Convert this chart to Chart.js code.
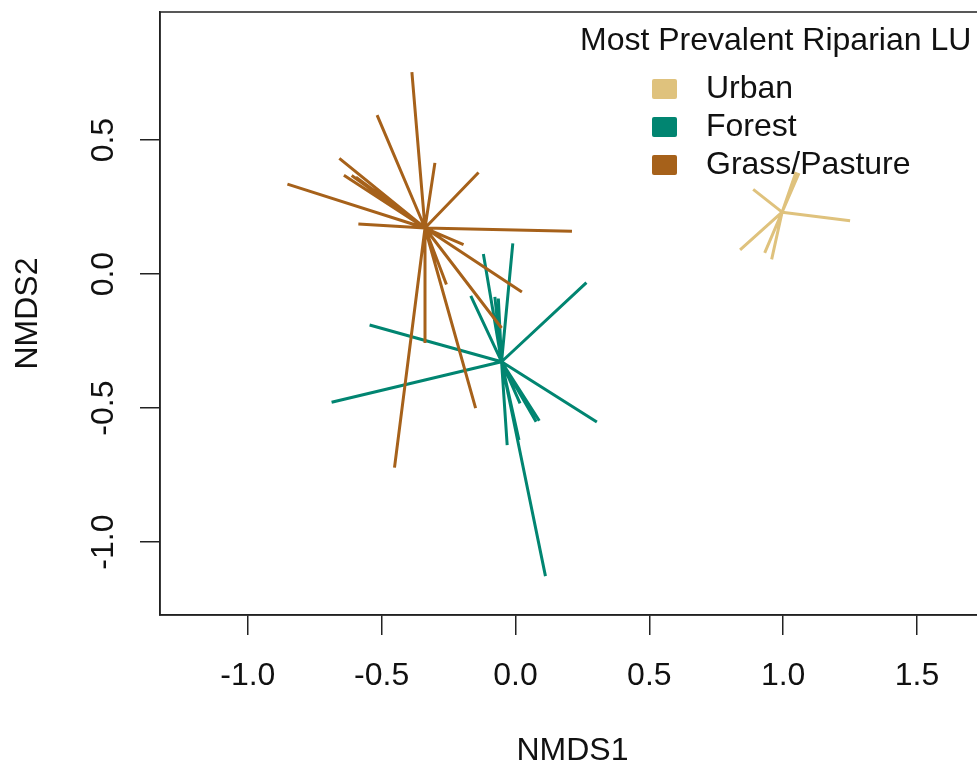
<!DOCTYPE html>
<html lang="en">
<head>
    <meta charset="UTF-8">
    <title>NMDS spider plot</title>
    <script src="https://cdn.jsdelivr.net/npm/chart.js"></script>
    <style>
        body {
            margin: 0;
            background: #fff;
            overflow: hidden;
        }
        #nmds {
            display: block;
        }
    </style>
</head>
<body>
    <canvas id="nmds" width="990" height="770"></canvas>

    <script>
        // groups, in legend order
        const groups = ['Urban', 'Forest', 'Grass/Pasture'];
        const legendTitle = 'Most Prevalent Riparian LU';

        // site scores (NMDS1 / NMDS2) and group centroids
        const urbanCentroid = [0.996, 0.231];
        const urbanX = [1.048, 1.059, 0.888, 1.250, 0.839, 0.931, 0.957];
        const urbanY = [0.381, 0.377, 0.316, 0.199, 0.090, 0.079, 0.055];

        const forestCentroid = [-0.052, -0.327];
        const forestX = [-0.545, -0.687, 0.265, 0.304, 0.112, -0.031, 0.013, 0.017, 0.089, 0.077, -0.010, -0.120, -0.167, -0.077, -0.064];
        const forestY = [-0.190, -0.478, -0.032, -0.552, -1.127, -0.638, -0.619, -0.482, -0.547, -0.551, 0.115, 0.075, -0.081, -0.085, -0.091];

        const grassCentroid = [-0.338, 0.172];
        const grassX = [-0.387, -0.517, -0.658, -0.641, -0.612, -0.596, -0.852, -0.587, -0.301, -0.138, 0.211, -0.194, 0.024, -0.052, -0.258, -0.338, -0.452, -0.149];
        const grassY = [0.754, 0.593, 0.432, 0.369, 0.368, 0.362, 0.336, 0.187, 0.415, 0.379, 0.160, 0.110, -0.067, -0.201, -0.039, -0.257, -0.722, -0.500];

        const xTicks = [-1.0, -0.5, 0.0, 0.5, 1.0, 1.5];
        const yTicks = [-1.0, -0.5, 0.0, 0.5];

        const colors = ['#dfc27d', '#018571', '#a6611a'];
        const font = "'Liberation Sans', Arial, sans-serif";

        // each site joined to its centroid, gaps between segments
        function spider(c, xs, ys) {
            let pts = [];
            xs.forEach((x, i) => {
                pts.push({x: c[0], y: c[1]});
                pts.push({x: x, y: ys[i]});
                pts.push({x: null, y: null});
            });
            return pts;
        }

        const spiders = [
            spider(urbanCentroid, urbanX, urbanY),
            spider(forestCentroid, forestX, forestY),
            spider(grassCentroid, grassX, grassY)
        ];

        const boxAndLabels = {
            id: 'boxAndLabels',
            afterDraw(chart) {
                const ctx = chart.ctx;
                const a = chart.chartArea;
                const ys = chart.scales.y;
                ctx.save();
                ctx.strokeStyle = '#222';
                ctx.lineWidth = 1.5;
                ctx.strokeRect(a.left, a.top, a.right - a.left, a.bottom - a.top);

                // y tick labels, rotated like R
                ctx.fillStyle = '#111';
                ctx.font = '32px ' + font;
                ctx.textAlign = 'center';
                ctx.textBaseline = 'middle';
                yTicks.forEach(v => {
                    ctx.save();
                    ctx.translate(104, ys.getPixelForValue(v));
                    ctx.rotate(-Math.PI / 2);
                    ctx.fillText(v.toFixed(1), 0, 0);
                    ctx.restore();
                });

                // legend
                ctx.textAlign = 'left';
                ctx.fillText(legendTitle, 580, 41);
                groups.forEach((g, i) => {
                    const cy = 89 + i * 38;
                    ctx.fillStyle = colors[i];
                    ctx.beginPath();
                    ctx.roundRect(652, cy - 10, 25, 20, 2);
                    ctx.fill();
                    ctx.fillStyle = '#111';
                    ctx.fillText(g, 706, cy);
                });
                ctx.restore();
            }
        };

        new Chart(document.getElementById('nmds'), {
            type: 'scatter',
            data: {
                datasets: groups.map((g, i) => ({
                    label: g,
                    data: spiders[i],
                    showLine: true,
                    spanGaps: false,
                    borderColor: colors[i],
                    borderWidth: 3,
                    pointRadius: 0,
                    order: 2 - i
                }))
            },
            options: {
                responsive: false,
                animation: false,
                layout: {
                    padding: {top: 12, right: 5, left: 0, bottom: 0}
                },
                plugins: {
                    legend: {display: false},
                    tooltip: {enabled: false}
                },
                scales: {
                    x: {
                        type: 'linear',
                        min: -1.328,
                        max: 1.754,
                        afterBuildTicks: s => { s.ticks = xTicks.map(v => ({value: v})); },
                        afterFit: s => { s.height = 155; },
                        grid: {drawOnChartArea: false, drawTicks: true, tickLength: 20, color: '#222', lineWidth: 1.5},
                        border: {display: true, color: '#222', width: 1.5},
                        ticks: {
                            color: '#111',
                            padding: 22,
                            maxRotation: 0,
                            autoSkip: false,
                            font: {family: font, size: 32},
                            callback: v => v.toFixed(1)
                        },
                        title: {
                            display: true,
                            text: 'NMDS1',
                            color: '#111',
                            font: {family: font, size: 32},
                            padding: {top: 0, bottom: 0}
                        }
                    },
                    y: {
                        type: 'linear',
                        min: -1.272,
                        max: 0.978,
                        afterBuildTicks: s => { s.ticks = yTicks.map(v => ({value: v})); },
                        afterFit: s => { s.width = 160; },
                        grid: {drawOnChartArea: false, drawTicks: true, tickLength: 20, color: '#222', lineWidth: 1.5},
                        border: {display: true, color: '#222', width: 1.5},
                        ticks: {display: false},
                        title: {
                            display: true,
                            text: 'NMDS2',
                            color: '#111',
                            font: {family: font, size: 32},
                            padding: {top: 9, bottom: 0}
                        }
                    }
                }
            },
            plugins: [boxAndLabels]
        });
    </script>
</body>
</html>
